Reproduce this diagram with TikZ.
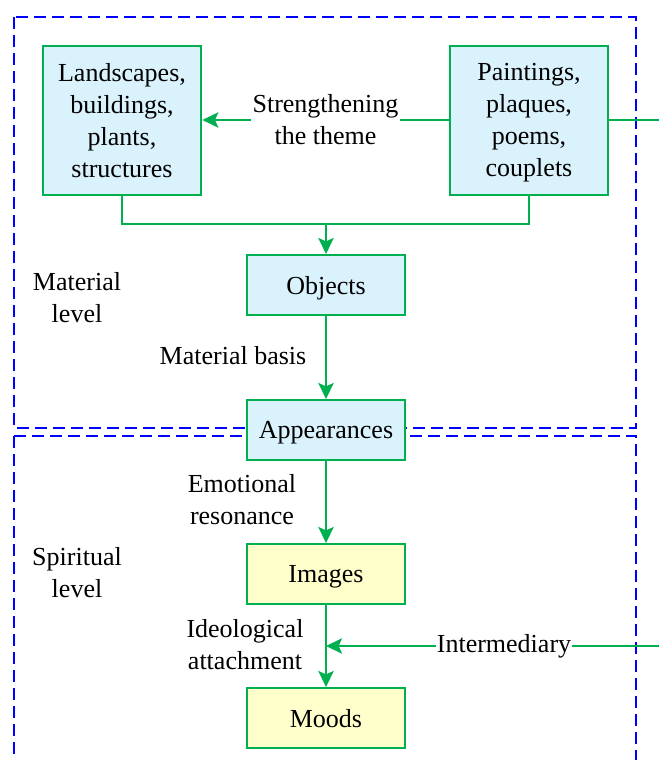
\documentclass[tikz,border=0pt]{standalone}
\usepackage{fontspec}
\setmainfont{Liberation Serif}
\usetikzlibrary{arrows.meta}
\definecolor{gline}{HTML}{00B050}
\definecolor{cfill}{HTML}{DAF2FC}
\definecolor{yfill}{HTML}{FFFFCC}
\definecolor{bdash}{HTML}{0000FF}
\tikzset{
  px/.style={x=0.75pt,y=-0.75pt},
  levelbox/.style={draw=bdash, line width=1.2pt, dash pattern=on 9pt off 4.5pt},
  cbox/.style={draw=gline, line width=1.5pt, fill=cfill, minimum width=119pt, minimum height=45pt, align=center, inner sep=0pt, text depth=0pt},
  ybox/.style={cbox, fill=yfill},
  tallbox/.style={cbox, minimum height=111.75pt},
  conn/.style={draw=gline, line width=1.6pt},
  arr/.style={conn, -{Stealth[length=12pt,width=11.5pt,inset=2.5pt]}},
  lbl/.style={align=center, inner sep=1pt},
  wlbl/.style={lbl, fill=white}
}
\begin{document}
\begin{tikzpicture}[px, font=\fontsize{19.5}{24}\selectfont]
\useasboundingbox (0,0) rectangle (659,760);
% level frames
\draw[levelbox] (14,17) rectangle (636,428);
\draw[levelbox] (14,436) -- (636,436) -- (636,790);
\draw[levelbox] (14,436) -- (14,790);
% nodes
\node[tallbox] (land) at (122,120) {Landscapes,\\buildings,\\plants,\\structures};
\node[tallbox] (paint) at (529,120) {Paintings,\\plaques,\\poems,\\couplets};
\node[cbox] (obj) at (326,285) {Objects};
\node[cbox] (app) at (326,430) {Appearances};
\node[ybox] (img) at (326,574) {Images};
\node[ybox] (mood) at (326,718) {Moods};
\coordinate (join) at (326,224);
\coordinate (redge1) at (660,120);
\coordinate (redge2) at (660,646);
\coordinate (imid) at (326,646);
% connectors
\draw[arr] (paint.west) -- node[wlbl] {Strengthening\\the theme} (land.east);
\draw[conn] (paint.east) -- (redge1);
\draw[conn] (land.south) |- (join) -| (paint.south);
\draw[arr] (join) -- (obj.north);
\draw[arr] (obj.south) -- (app.north);
\draw[arr] (app.south) -- (img.north);
\draw[arr] (img.south) -- (mood.north);
\draw[arr] (redge2) -- (imid);
\node[wlbl] (inter) at (504,646) {Intermediary};
% labels
\node[lbl] (mb) at (233,356) {Material basis};
\node[lbl] (er) at (242,499.5) {Emotional\\resonance};
\node[lbl] (ia) at (245,644.5) {Ideological\\attachment};
\node[lbl] (ml) at (77,297.5) {Material\\level};
\node[lbl] (sl) at (77,573) {Spiritual\\level};
\end{tikzpicture}
\end{document}
